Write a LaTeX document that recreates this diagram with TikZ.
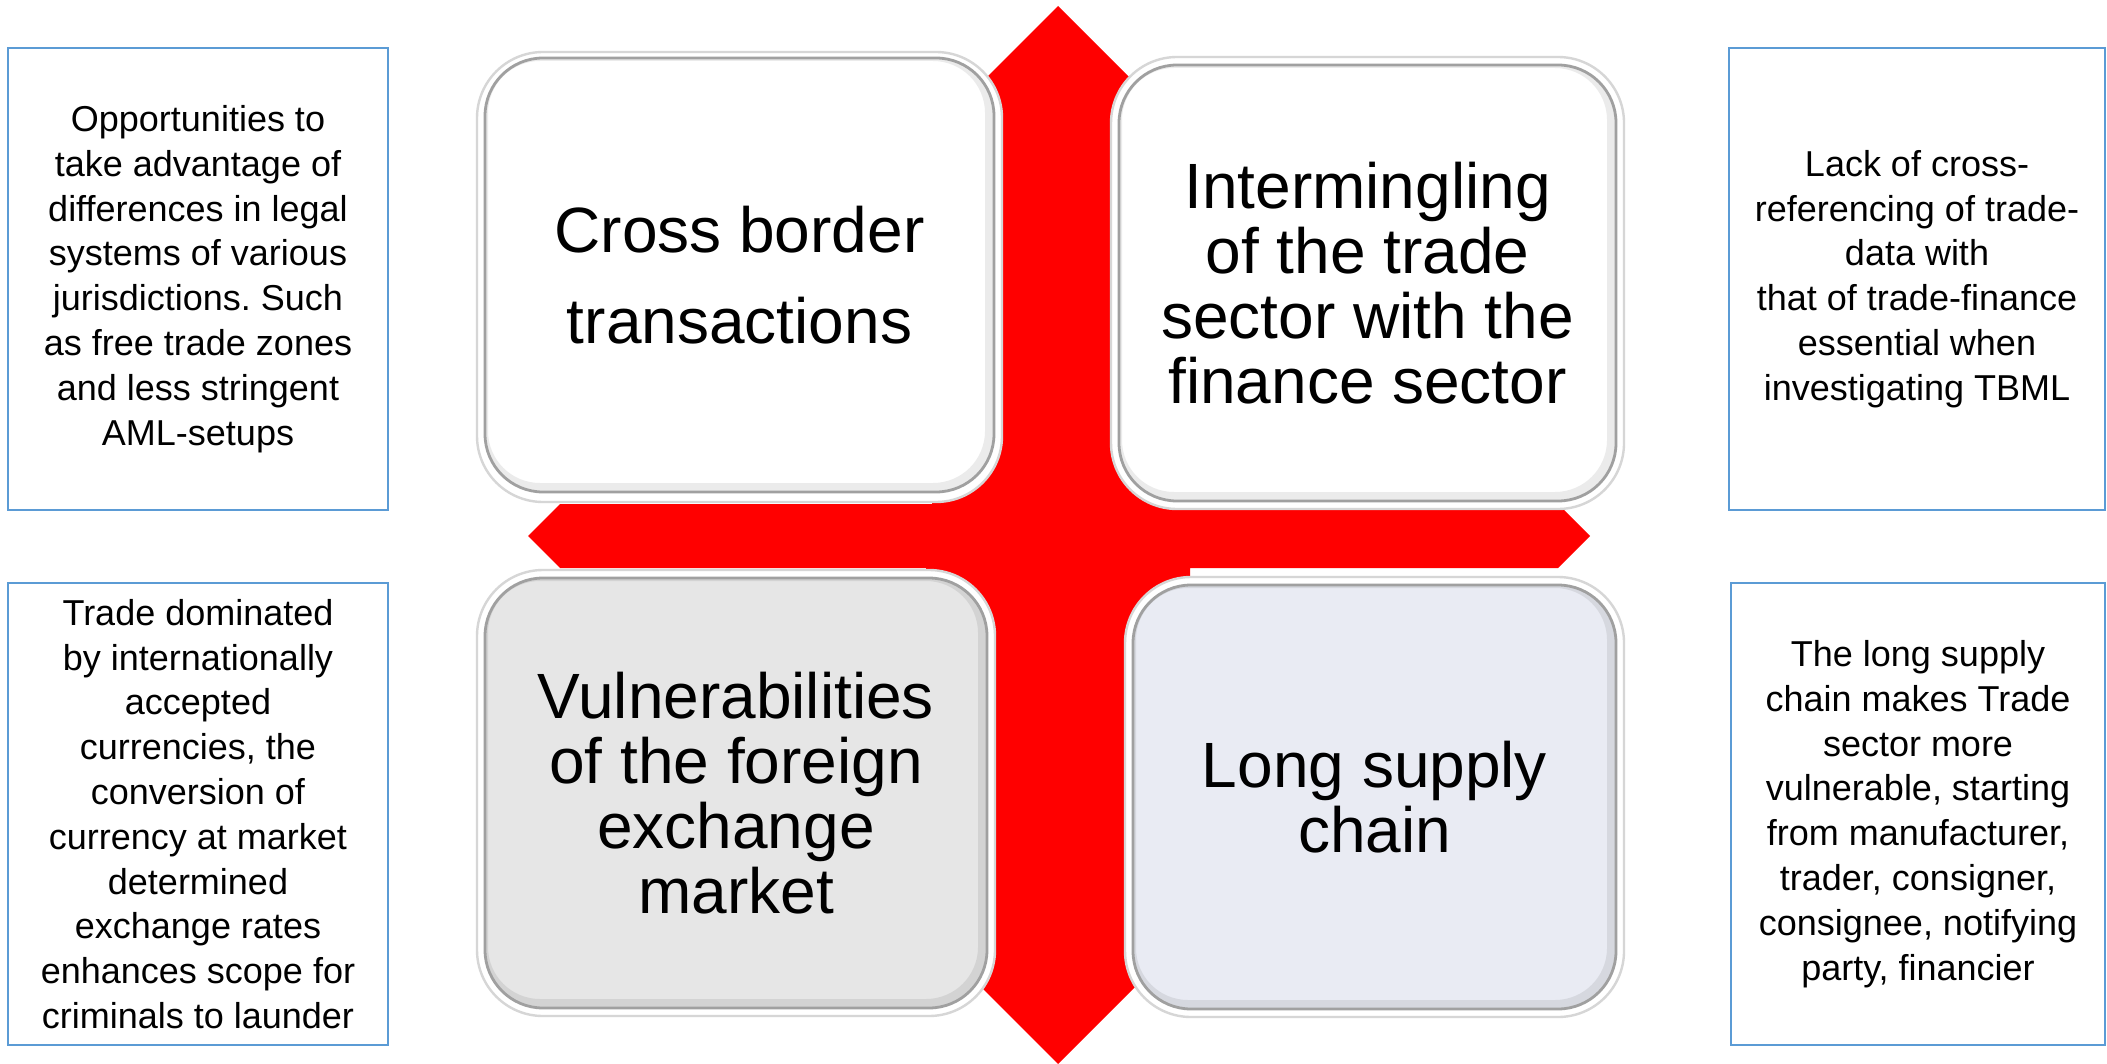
\documentclass[tikz,border=0pt]{standalone}
\usepackage{fontspec}
\setmainfont{Liberation Sans}
\frenchspacing
\definecolor{crossred}{RGB}{255,0,0}
\definecolor{noteblue}{RGB}{91,155,213}
\definecolor{ringgray}{RGB}{214,214,214}
\definecolor{edgegray}{RGB}{160,160,160}
\definecolor{tilegray}{RGB}{230,230,230}
\definecolor{tileblue}{RGB}{233,235,243}
\begin{document}
\begin{tikzpicture}[x=0.5pt,y=-0.5pt,
  ring/.style={draw=ringgray, line width=1.2pt, fill=white, rounded corners=33pt},
  tile/.style={draw=edgegray, line width=1.4pt, rounded corners=29pt, inner sep=0pt,
    outer sep=0pt, align=center, font=\fontsize{32}{32.5}\selectfont,
    path picture={
      \draw[black, opacity=0.08, line width=6pt, rounded corners=29pt]
        ([shift={(-1.5pt,1.5pt)}]path picture bounding box.north west) rectangle
        ([shift={(-1.5pt,1.5pt)}]path picture bounding box.south east);
    }},
  note/.style={draw=noteblue, line width=1.2pt, fill=white, inner sep=0pt,
    align=center, font=\fontsize{18}{22.4}\selectfont, minimum height=231pt}
]
\useasboundingbox (0,0) rectangle (2107,1064);
\fill[white] (0,0) rectangle (2107,1064);

% red cross with pointed arms
\fill[crossred] (1058,6) -- (1185,133) -- (1185,504) -- (1558,504) -- (1590,536)
  -- (1558,568) -- (1190,568) -- (1190,932) -- (1058,1064) -- (926,932)
  -- (926,568) -- (560,568) -- (528,536) -- (560,504) -- (932,504)
  -- (932,132) -- cycle;

% outer rings of the four tiles
\draw[ring] (477,52) rectangle (1002,502);
\draw[ring] (1111,57) rectangle (1624,509);
\draw[ring] (477,570) rectangle (995,1016);
\draw[ring] (1125,577) rectangle (1624,1017);

% tiles
\node[tile, fill=white, minimum width=254.5pt, minimum height=217pt,
  font=\fontsize{32}{45.5}\selectfont] (cross) at (739.5,275)
  {Cross border\\transactions};
\node[tile, fill=white, minimum width=248.5pt, minimum height=218pt] (mingle) at (1367.5,283)
  {Intermingling\\of the trade\\sector with the\\finance sector};
\node[tile, fill=tilegray, minimum width=251pt, minimum height=215pt] (forex) at (736,793)
  {Vulnerabilities\\of the foreign\\exchange\\market};
\node[tile, fill=tileblue, minimum width=241.5pt, minimum height=212pt] (chain) at (1374.5,797)
  {Long supply\\chain};

% explanatory notes
\node[note, minimum width=190pt] (legal) at (198,279)
  {Opportunities to\\take advantage of\\differences in legal\\systems of various\\jurisdictions. Such\\as free trade zones\\and less stringent\\AML-setups};
\node[note, minimum width=190pt] (currency) at (198,814)
  {Trade dominated\\by internationally\\accepted\\currencies, the\\conversion of\\currency at market\\determined\\exchange rates\\enhances scope for\\criminals to launder};
\node[note, minimum width=188pt] (crossref) at (1917,279)
  {Lack of cross-\\referencing of trade-\\data with\\that of trade-finance\\essential when\\investigating TBML};
\node[note, minimum width=187pt] (supply) at (1918,814)
  {The long supply\\chain makes Trade\\sector more\\vulnerable, starting\\from manufacturer,\\trader, consigner,\\consignee, notifying\\party, financier};
\end{tikzpicture}
\end{document}
